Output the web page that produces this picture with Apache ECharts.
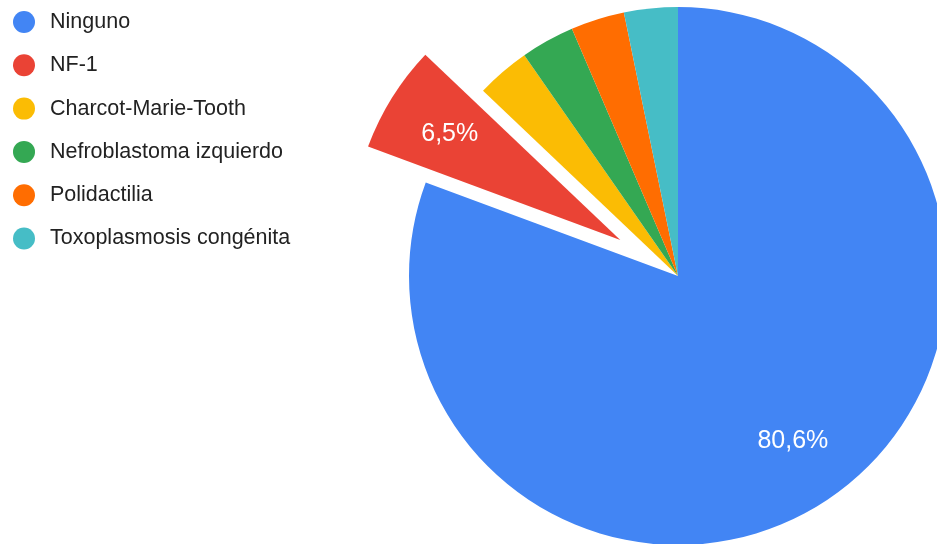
<!DOCTYPE html>
<html>
<head>
<meta charset="utf-8">
<style>
  html, body { margin: 0; padding: 0; background: #ffffff; }
  #chart { width: 937px; height: 544px; }
</style>
<script src="https://cdn.jsdelivr.net/npm/echarts@6/dist/echarts.min.js"></script>
</head>
<body>
<div id="chart"></div>
<script>
// Respondents by diagnosed condition
const categories = [
  'Ninguno',
  'NF-1',
  'Charcot-Marie-Tooth',
  'Nefroblastoma izquierdo',
  'Polidactilia',
  'Toxoplasmosis congénita'
];
const counts = [25, 2, 1, 1, 1, 1];
const colors = ['#4285F4', '#EA4335', '#FBBC04', '#34A853', '#FF6D01', '#46BDC6'];
const explodedName = 'NF-1';

const total = counts.reduce((a, b) => a + b, 0);
const pctText = v => (v / total * 100).toFixed(1).replace('.', ',') + '%';

const R = 269;          // pie radius in px
const OFFSET = 68;      // explode distance for the highlighted slice
const LABEL_R = 198;    // radial distance of the value labels

const slices = categories.map((name, i) => ({
  name,
  value: counts[i],
  selected: name === explodedName,
  itemStyle: { color: colors[i] }
}));

// Invisible twin pie: its inside labels sit at half its radius,
// which puts them at LABEL_R from the centre.
const labelSlices = categories.map((name, i) => ({
  name,
  value: counts[i],
  selected: name === explodedName,
  itemStyle: { color: 'rgba(0,0,0,0)' },
  label: { show: counts[i] / total >= 0.05 }
}));

const chart = echarts.init(document.getElementById('chart'), null, { renderer: 'canvas' });
chart.setOption({
  animation: false,
  backgroundColor: '#ffffff',
  legend: {
    orient: 'vertical',
    left: 8,
    top: 6,
    icon: 'circle',
    itemWidth: 42,
    itemHeight: 22,
    itemGap: 21.3,
    data: categories,
    textStyle: {
      fontFamily: 'Liberation Sans, Arial, sans-serif',
      fontSize: 21.5,
      color: '#222222'
    }
  },
  series: [
    {
      type: 'pie',
      center: [678, 276],
      radius: [0, R],
      startAngle: 90,
      clockwise: true,
      selectedMode: 'single',
      selectedOffset: OFFSET,
      avoidLabelOverlap: false,
      label: { show: false },
      labelLine: { show: false },
      itemStyle: { borderWidth: 0 },
      emphasis: { disabled: true },
      select: { itemStyle: { borderWidth: 0 } },
      data: slices
    },
    {
      type: 'pie',
      center: [678, 276],
      radius: [0, LABEL_R * 2],
      startAngle: 90,
      clockwise: true,
      selectedMode: 'single',
      selectedOffset: OFFSET,
      silent: true,
      avoidLabelOverlap: false,
      z: 3,
      label: {
        position: 'inside',
        formatter: p => pctText(p.value),
        color: '#ffffff',
        fontFamily: 'Liberation Sans, Arial, sans-serif',
        fontSize: 25,
        fontWeight: 'normal'
      },
      labelLine: { show: false },
      itemStyle: { borderWidth: 0 },
      emphasis: { disabled: true },
      data: labelSlices
    }
  ]
});
</script>
</body>
</html>
